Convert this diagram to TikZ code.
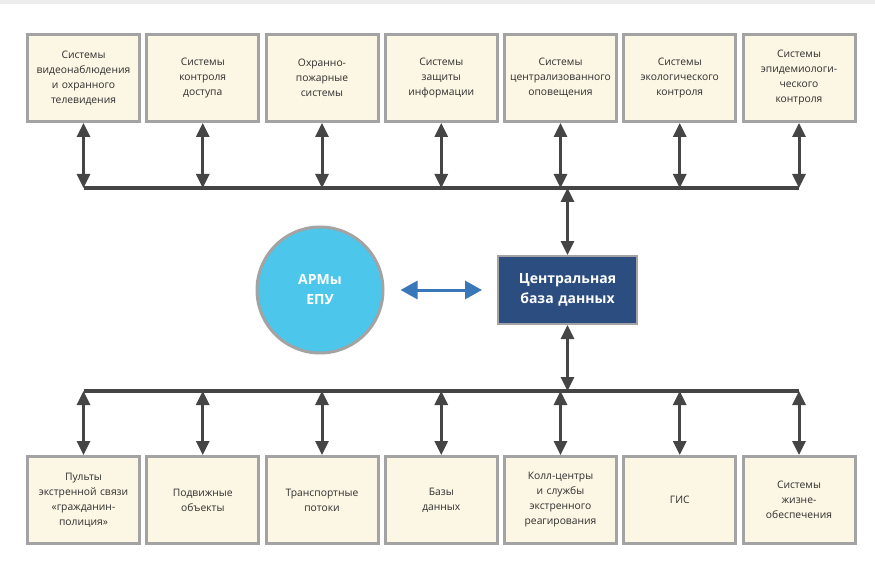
\documentclass[tikz,border=0pt]{standalone}
\usepackage{fontspec}
\setmainfont{Open Sans}
\usetikzlibrary{arrows.meta}
\definecolor{boxfill}{HTML}{FCF6E4}
\definecolor{boxline}{HTML}{A3A3A3}
\definecolor{arrowgray}{HTML}{454545}
\definecolor{dbblue}{HTML}{2C4D7F}
\definecolor{armblue}{HTML}{4CC6EA}
\definecolor{linkblue}{HTML}{3A77B8}
\definecolor{txtgray}{HTML}{2E2E2E}
\tikzstyle{sysbox} = [rectangle,
minimum width=112pt,
minimum height=87pt,
text centered,
text width=108pt,
inner sep=0pt,
draw=boxline,
line width=3pt,
fill=boxfill,
text=txtgray,
font=\fontsize{10.3}{15}\selectfont]
\tikzstyle{dbbox} = [rectangle, minimum width=139pt, minimum height=68pt,
text centered, text width=130pt, draw=boxline, line width=2pt, fill=dbblue,
text=white, font=\fontsize{14}{20}\selectfont\bfseries]
\tikzstyle{armcircle} = [circle, minimum size=126pt, draw=boxline, line width=3pt,
fill=armblue, text=white, align=center, font=\fontsize{14}{20}\selectfont\bfseries]
\tikzstyle{arrow} = [line width=3pt, draw=arrowgray, >={Triangle[width=13pt,length=14pt]}, <->]
\tikzstyle{bus} = [line width=3.5pt, draw=arrowgray]
\tikzstyle{bluearrow} = [line width=3pt, draw=linkblue, >={Triangle[width=18pt,length=17pt]}, <->]

\begin{document}
\begin{tikzpicture}[x=1pt, y=-1pt]
    \useasboundingbox (0,0) rectangle (875,564);
    \fill [black!7] (0,0) rectangle (875,4);

    \node (t1) [sysbox] at (83.5,78) {Системы\\видеонаблюдения\\и охранного\\телевидения};
    \node (t2) [sysbox] at (202.75,78) {Системы\\контроля\\доступа};
    \node (t3) [sysbox] at (322,78) {Охранно-\\пожарные\\системы};
    \node (t4) [sysbox] at (441.25,78) {Системы\\защиты\\информации};
    \node (t5) [sysbox] at (560.5,78) {Системы\\централизованного\\оповещения};
    \node (t6) [sysbox] at (679.75,78) {Системы\\экологического\\контроля};
    \node (t7) [sysbox] at (799,78) {Системы\\эпидемиологи-\\ческого\\контроля};

    \node (arm) [armcircle] at (320,290) {АРМы\\ЕПУ};
    \node (cdb) [dbbox] at (567.5,290) {Центральная\\база данных};

    \node (b1) [sysbox] at (83.5,500) {Пульты\\экстренной связи\\«гражданин-\\полиция»};
    \node (b2) [sysbox] at (202.75,500) {Подвижные\\объекты};
    \node (b3) [sysbox] at (322,500) {Транспортные\\потоки};
    \node (b4) [sysbox] at (441.25,500) {Базы\\данных};
    \node (b5) [sysbox] at (560.5,500) {Колл-центры\\и службы\\экстренного\\реагирования};
    \node (b6) [sysbox] at (679.75,500) {ГИС};
    \node (b7) [sysbox] at (799,500) {Системы\\жизне-\\обеспечения};

    \coordinate (busT) at (0,188);
    \coordinate (busB) at (0,391);

    % Buses
    \draw [bus] (t1.south |- busT) -- (t7.south |- busT);
    \draw [bus] (b1.north |- busB) -- (b7.north |- busB);

    % Top systems to bus
    \draw [arrow] (t1.south) -- (t1.south |- busT);
    \draw [arrow] (t2.south) -- (t2.south |- busT);
    \draw [arrow] (t3.south) -- (t3.south |- busT);
    \draw [arrow] (t4.south) -- (t4.south |- busT);
    \draw [arrow] (t5.south) -- (t5.south |- busT);
    \draw [arrow] (t6.south) -- (t6.south |- busT);
    \draw [arrow] (t7.south) -- (t7.south |- busT);

    % Central database
    \draw [arrow] (cdb.north) -- (cdb.north |- busT);
    \draw [arrow] (cdb.south) -- (cdb.south |- busB);
    \draw [bluearrow, shorten <=16pt, shorten >=15pt] (arm) -- (cdb);

    % Bus to bottom systems
    \draw [arrow] (b1.north) -- (b1.north |- busB);
    \draw [arrow] (b2.north) -- (b2.north |- busB);
    \draw [arrow] (b3.north) -- (b3.north |- busB);
    \draw [arrow] (b4.north) -- (b4.north |- busB);
    \draw [arrow] (b5.north) -- (b5.north |- busB);
    \draw [arrow] (b6.north) -- (b6.north |- busB);
    \draw [arrow] (b7.north) -- (b7.north |- busB);
\end{tikzpicture}
\end{document}
